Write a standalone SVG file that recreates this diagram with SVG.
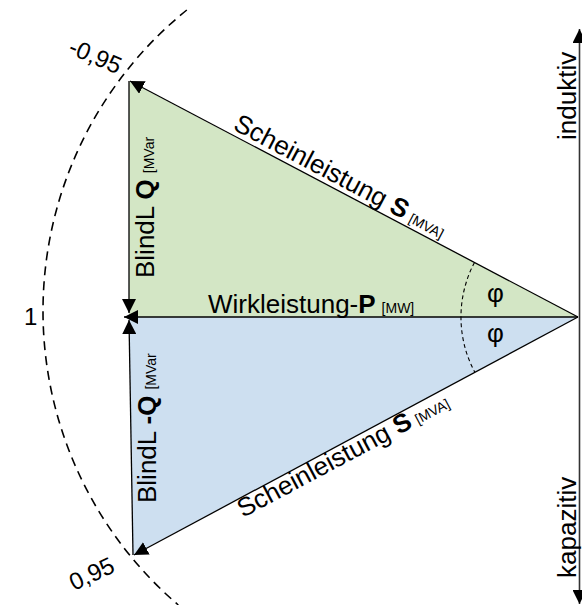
<svg xmlns="http://www.w3.org/2000/svg" width="582" height="605" viewBox="0 0 582 605">
<style>
text{font-family:"Liberation Sans",Arial,sans-serif;fill:#000}
.t{font-size:26px}
.b{font-weight:bold}
.u{font-size:14px}
.lbl{font-size:24px}
.ln{stroke:#000;stroke-width:1.3;fill:none}
.ax{stroke:#333;stroke-width:1.6;fill:none}
.dash{stroke:#000;stroke-width:1.6;fill:none;stroke-dasharray:9,6}
.dash2{stroke:#000;stroke-width:1.1;fill:none;stroke-dasharray:4,3}
</style>
<defs>
<marker id="ah" markerUnits="userSpaceOnUse" markerWidth="15" markerHeight="14" refX="14" refY="7" orient="auto-start-reverse" viewBox="0 0 15 14">
<path d="M0,0 L14,7 L0,14 z" fill="#000"/>
</marker>
</defs>
<g id="tri-ind">
<polygon points="129,81 578,317 129,317" fill="#d3e6c5"/>
</g>
<g id="tri-kap">
<polygon points="129,317 578,317 133,555" fill="#cddff0"/>
</g>
<g id="arcs">
<path class="dash" d="M186.8,10 A387,387 0 0 0 178.3,605"/>
<path class="dash2" d="M474.5,262.4 A117,117 0 0 0 474.8,372.2"/>
</g>
<g id="connectors">
<line class="ln" x1="578" y1="317" x2="130" y2="81" marker-end="url(#ah)"/>
<line class="ln" x1="129" y1="81" x2="129" y2="313" marker-end="url(#ah)"/>
<line class="ln" x1="578" y1="317" x2="124" y2="317" marker-end="url(#ah)"/>
<line class="ln" x1="133" y1="555" x2="129" y2="320" marker-end="url(#ah)"/>
<line class="ln" x1="578" y1="317" x2="134" y2="555" marker-end="url(#ah)"/>
<line class="ax" x1="579.5" y1="604" x2="579.5" y2="29" marker-start="url(#ah)" marker-end="url(#ah)"/>
</g>
<g id="label-S-top">
<text class="t" transform="translate(232,129) rotate(27.8)">Scheinleistung <tspan class="b">S</tspan><tspan class="u" dx="5">[MVA]</tspan></text>
</g>
<g id="label-S-bottom">
<text class="t" transform="translate(243,518) rotate(-28.1)">Scheinleistung <tspan class="b">S</tspan><tspan class="u" dx="5">[MVA]</tspan></text>
</g>
<g id="label-P">
<text class="t" x="208" y="313">Wirkleistung-<tspan class="b">P</tspan><tspan class="u" dx="6">[MW]</tspan></text>
</g>
<g id="label-Q-top">
<text class="t" transform="translate(154,278) rotate(-90)">BlindL <tspan class="b">Q</tspan><tspan class="u" dx="6">[MVar</tspan></text>
</g>
<g id="label-Q-bottom">
<text class="t" transform="translate(156,503) rotate(-90)">BlindL <tspan class="b">-Q</tspan><tspan class="u" dx="6">[MVar</tspan></text>
</g>
<g id="label-phi">
<text class="t" font-size="24" x="487" y="302">φ</text>
<text class="t" font-size="24" x="487" y="342">φ</text>
</g>
<g id="label-axis">
<text class="t" transform="translate(576,140) rotate(-90)">induktiv</text>
<text class="t" transform="translate(576,578) rotate(-90)">kapazitiv</text>
</g>
<g id="label-pf">
<text class="lbl" transform="translate(67,53) rotate(23)">-0,95</text>
<text class="lbl" x="24" y="325">1</text>
<text class="lbl" transform="translate(74,591) rotate(-25)">0,95</text>
</g>
</svg>
